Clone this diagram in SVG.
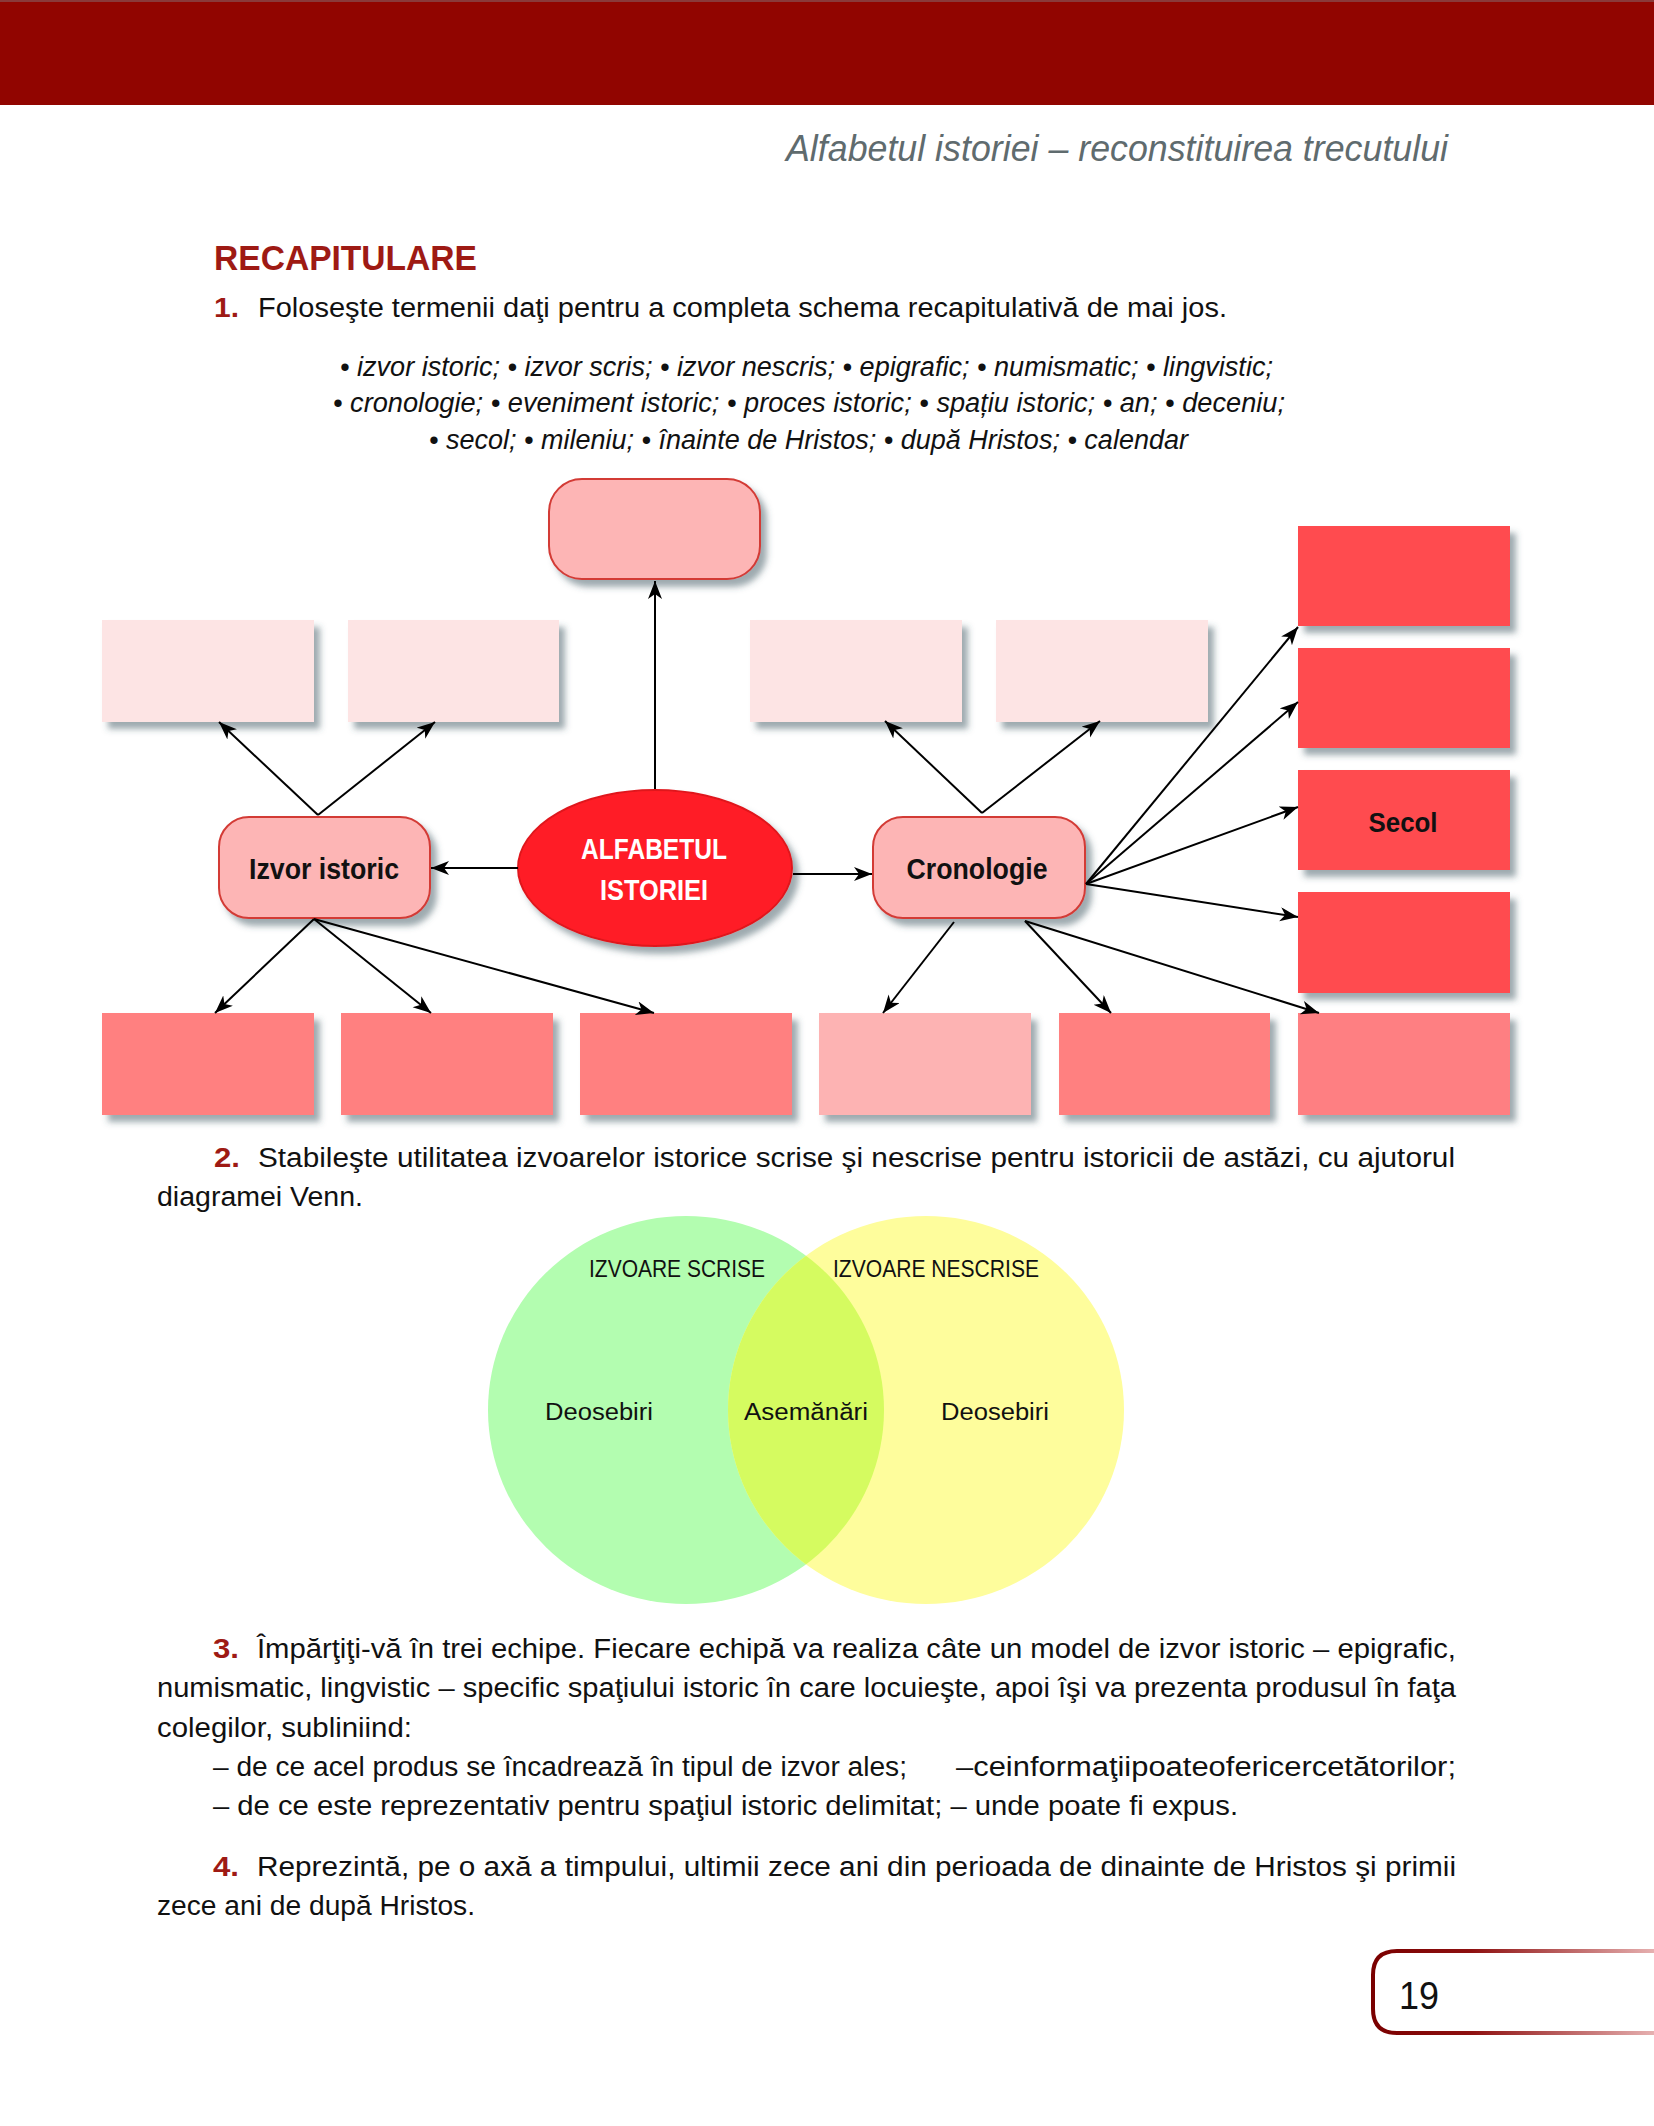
<svg xmlns="http://www.w3.org/2000/svg" width="1654" height="2126" viewBox="0 0 1654 2126">
<defs>
<filter id="sh" x="-10%" y="-10%" width="130%" height="140%">
<feDropShadow dx="6" dy="7" stdDeviation="3" flood-color="#3d5560" flood-opacity="0.5"/>
</filter>
<marker id="ar" markerUnits="userSpaceOnUse" markerWidth="20" markerHeight="16" refX="18" refY="7" orient="auto">
<path d="M0,0 L18,7 L0,14 L5,7 z" fill="#000"/>
</marker>
<linearGradient id="pg" gradientUnits="userSpaceOnUse" x1="1373" y1="0" x2="1654" y2="0">
<stop offset="0" stop-color="#7a0000"/>
<stop offset="0.35" stop-color="#8e1010"/>
<stop offset="1" stop-color="#e6b0b0"/>
</linearGradient>
<clipPath id="gc"><ellipse cx="686" cy="1410" rx="198" ry="194"/></clipPath>
<style>
.t{font-family:"Liberation Sans",Arial,sans-serif;font-size:27px;fill:#111}
.it{font-style:italic}
.num{font-weight:bold;fill:#9e1a14}
.nb{font-family:"Liberation Sans",Arial,sans-serif;font-weight:bold;font-size:29px;fill:#111;text-anchor:middle}
.lp{fill:#fde4e4;filter:url(#sh)}
.sa{fill:#ff8080;filter:url(#sh)}
.rd{fill:#ff4b4f;filter:url(#sh)}
.pk{fill:#fdb3b3;filter:url(#sh)}
.rr{fill:#fdb5b5;stroke:#d33b36;stroke-width:2;filter:url(#sh)}
.cn line{stroke:#000;stroke-width:2;marker-end:url(#ar)}
.vt{font-family:"Liberation Sans",Arial,sans-serif;font-size:23px;fill:#111}
</style>
</defs>
<rect width="1654" height="2126" fill="#fff"/>
<rect x="0" y="0" width="1654" height="105" fill="#910500"/>
<rect x="0" y="0" width="1654" height="2" fill="#8a3a3a"/>
<text class="t it" x="786" y="161" font-size="36" style="font-size:36px;fill:#5f6b6e" textLength="662" lengthAdjust="spacingAndGlyphs">Alfabetul istoriei – reconstituirea trecutului</text>

<text class="t num" x="214" y="270" style="font-size:35px" textLength="263" lengthAdjust="spacingAndGlyphs">RECAPITULARE</text>
<text class="t num" x="214" y="317" textLength="25" lengthAdjust="spacingAndGlyphs">1.</text>
<text class="t" x="258" y="317" textLength="969" lengthAdjust="spacingAndGlyphs">Foloseşte termenii daţi pentru a completa schema recapitulativă de mai jos.</text>
<text class="t it" x="340" y="376" textLength="933" lengthAdjust="spacingAndGlyphs">• izvor istoric; • izvor scris; • izvor nescris; • epigrafic; • numismatic; • lingvistic;</text>
<text class="t it" x="333" y="412" textLength="952" lengthAdjust="spacingAndGlyphs">• cronologie; • eveniment istoric; • proces istoric; • spațiu istoric; • an; • deceniu;</text>
<text class="t it" x="429" y="449" textLength="759" lengthAdjust="spacingAndGlyphs">• secol; • mileniu; • înainte de Hristos; • după Hristos; • calendar</text>

<g id="nodes">
<g id="n-top"><rect class="rr" x="549" y="479" width="211" height="100" rx="33"/></g>
<g id="n-a1"><rect class="lp" x="102" y="620" width="212" height="102"/></g>
<g id="n-a2"><rect class="lp" x="348" y="620" width="211" height="102"/></g>
<g id="n-c1"><rect class="lp" x="750" y="620" width="212" height="102"/></g>
<g id="n-c2"><rect class="lp" x="996" y="620" width="212" height="102"/></g>
<g id="n-r1"><rect class="rd" x="1298" y="526" width="212" height="100"/></g>
<g id="n-r2"><rect class="rd" x="1298" y="648" width="212" height="100"/></g>
<g id="n-r3"><rect class="rd" x="1298" y="770" width="212" height="100"/><text class="nb" x="1403" y="832" style="font-size:28px" textLength="69" lengthAdjust="spacingAndGlyphs">Secol</text></g>
<g id="n-r4"><rect class="rd" x="1298" y="892" width="212" height="101"/></g>
<g id="n-b1"><rect class="sa" x="102" y="1013" width="212" height="102"/></g>
<g id="n-b2"><rect class="sa" x="341" y="1013" width="212" height="102"/></g>
<g id="n-b3"><rect class="sa" x="580" y="1013" width="212" height="102"/></g>
<g id="n-b4"><rect class="pk" x="819" y="1013" width="212" height="102"/></g>
<g id="n-b5"><rect class="sa" x="1059" y="1013" width="211" height="102"/></g>
<g id="n-b6"><rect class="sa" x="1298" y="1013" width="212" height="102" style="fill:#fe7f82"/></g>
<g id="n-izvor"><rect class="rr" x="219" y="817" width="211" height="101" rx="30"/><text class="nb" x="324" y="879" textLength="150" lengthAdjust="spacingAndGlyphs">Izvor istoric</text></g>
<g id="n-cron"><rect class="rr" x="873" y="817" width="212" height="101" rx="30"/><text class="nb" x="977" y="879" textLength="141" lengthAdjust="spacingAndGlyphs">Cronologie</text></g>
<g id="n-center"><ellipse cx="655" cy="868" rx="137" ry="78" fill="#ff1d25" stroke="#e0191f" stroke-width="2" filter="url(#sh)"/>
<text class="nb" x="654" y="859" style="fill:#fff" textLength="146" lengthAdjust="spacingAndGlyphs">ALFABETUL</text>
<text class="nb" x="654" y="900" style="fill:#fff" textLength="108" lengthAdjust="spacingAndGlyphs">ISTORIEI</text></g>
</g>

<g id="connectors" class="cn">
<line x1="655" y1="789" x2="655" y2="581"/>
<line x1="518" y1="868" x2="431" y2="868"/>
<line x1="793" y1="874" x2="872" y2="874"/>
<line x1="318" y1="815" x2="219" y2="722"/>
<line x1="318" y1="815" x2="435" y2="722"/>
<line x1="982" y1="813" x2="885" y2="721"/>
<line x1="982" y1="813" x2="1100" y2="721"/>
<line x1="314" y1="919" x2="215" y2="1013"/>
<line x1="314" y1="919" x2="431" y2="1013"/>
<line x1="314" y1="919" x2="654" y2="1013"/>
<line x1="954" y1="922" x2="883" y2="1013"/>
<line x1="1025" y1="921" x2="1111" y2="1013"/>
<line x1="1025" y1="921" x2="1319" y2="1013"/>
<line x1="1086" y1="884" x2="1298" y2="627"/>
<line x1="1086" y1="884" x2="1298" y2="702"/>
<line x1="1086" y1="884" x2="1298" y2="807"/>
<line x1="1086" y1="884" x2="1298" y2="917"/>
</g>

<text class="t num" x="214" y="1167" textLength="26" lengthAdjust="spacingAndGlyphs">2.</text>
<text class="t" x="258" y="1167" textLength="1197" lengthAdjust="spacingAndGlyphs">Stabileşte utilitatea izvoarelor istorice scrise şi nescrise pentru istoricii de astăzi, cu ajutorul</text>
<text class="t" x="157" y="1206" textLength="206" lengthAdjust="spacingAndGlyphs">diagramei Venn.</text>

<g id="venn">
<ellipse cx="686" cy="1410" rx="198" ry="194" fill="#b3fdb0"/>
<ellipse cx="926" cy="1410" rx="198" ry="194" fill="#fefd9c"/>
<ellipse cx="926" cy="1410" rx="198" ry="194" fill="#d5fb60" clip-path="url(#gc)"/>
<text class="vt" x="589" y="1277" textLength="176" lengthAdjust="spacingAndGlyphs">IZVOARE SCRISE</text>
<text class="vt" x="833" y="1277" textLength="206" lengthAdjust="spacingAndGlyphs">IZVOARE NESCRISE</text>
<text class="vt" x="545" y="1420" textLength="108" lengthAdjust="spacingAndGlyphs">Deosebiri</text>
<text class="vt" x="744" y="1420" textLength="124" lengthAdjust="spacingAndGlyphs">Asemănări</text>
<text class="vt" x="941" y="1420" textLength="108" lengthAdjust="spacingAndGlyphs">Deosebiri</text>
</g>

<text class="t num" x="213" y="1658" textLength="26" lengthAdjust="spacingAndGlyphs">3.</text>
<text class="t" x="257" y="1658" textLength="1199" lengthAdjust="spacingAndGlyphs">Împărţiţi-vă în trei echipe. Fiecare echipă va realiza câte un model de izvor istoric – epigrafic,</text>
<text class="t" x="157" y="1697" textLength="1299" lengthAdjust="spacingAndGlyphs">numismatic, lingvistic – specific spaţiului istoric în care locuieşte, apoi îşi va prezenta produsul în faţa</text>
<text class="t" x="157" y="1737" textLength="255" lengthAdjust="spacingAndGlyphs">colegilor, subliniind:</text>
<text class="t" x="213" y="1776" textLength="694" lengthAdjust="spacingAndGlyphs">– de ce acel produs se încadrează în tipul de izvor ales;</text>
<text class="t" x="956" y="1776" textLength="500" lengthAdjust="spacingAndGlyphs">–ceinformaţiipoateofericercetătorilor;</text>
<text class="t" x="213" y="1815" textLength="1025" lengthAdjust="spacingAndGlyphs">– de ce este reprezentativ pentru spaţiul istoric delimitat; – unde poate fi expus.</text>

<text class="t num" x="213" y="1876" textLength="26" lengthAdjust="spacingAndGlyphs">4.</text>
<text class="t" x="257" y="1876" textLength="1199" lengthAdjust="spacingAndGlyphs">Reprezintă, pe o axă a timpului, ultimii zece ani din perioada de dinainte de Hristos şi primii</text>
<text class="t" x="157" y="1915" textLength="318" lengthAdjust="spacingAndGlyphs">zece ani de după Hristos.</text>

<path d="M1656,1951 H1397 Q1373,1951 1373,1975 V2009 Q1373,2033 1397,2033 H1656" fill="none" stroke="url(#pg)" stroke-width="4"/>
<text x="1399" y="2009" style="font-family:'Liberation Sans',Arial,sans-serif;font-size:38px;fill:#111" textLength="40" lengthAdjust="spacingAndGlyphs">19</text>
</svg>
